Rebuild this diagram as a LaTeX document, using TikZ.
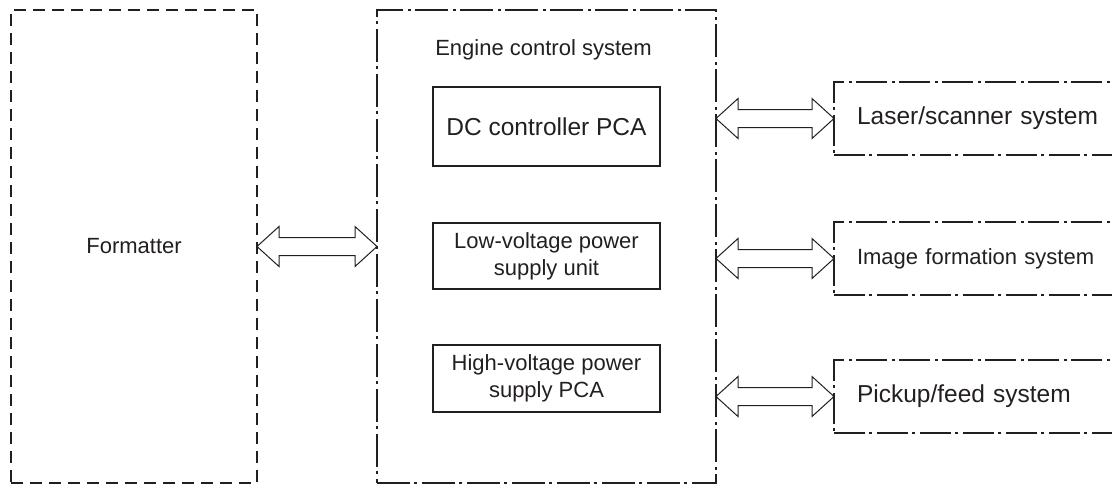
\documentclass[tikz,border=0pt]{standalone}
\usepackage{fontspec}
\setmainfont{Liberation Sans}
\usetikzlibrary{calc}
\definecolor{ink}{HTML}{231F20}
\newcommand{\smallfs}{\fontsize{22}{27}\selectfont}
\newcommand{\bigfs}{\fontsize{24.5}{29}\selectfont}
\tikzset{
  every node/.style={inner sep=0pt, outer sep=0pt, text=ink},
  fmtbox/.style={draw=ink, line width=2.5pt, dash pattern=on 12pt off 7pt, font=\smallfs},
  engbox/.style={draw=ink, line width=2.6pt, dash pattern=on 33pt off 4pt on 3pt off 5pt},
  inbox/.style={draw=ink, line width=2.3pt, minimum width=227pt, align=center},
  sysbox/.style={draw=ink, line width=2.4pt, dash pattern=on 31pt off 4pt on 3pt off 5pt,
    minimum height=73pt, text width=245pt, inner xsep=23pt, align=left},
  titletext/.style={font=\smallfs},
  blockarrow/.style={draw=ink, line width=1pt, fill=white,
    to path={let \p1=(\tikztostart), \p2=(\tikztotarget) in
      (\x1,\y1) -- (\x1+22pt,\y1+20pt) -- (\x1+22pt,\y1+9pt) -- (\x2-22pt,\y1+9pt)
      -- (\x2-22pt,\y1+20pt) -- (\x2,\y1) -- (\x2-22pt,\y1-20pt) -- (\x2-22pt,\y1-9pt)
      -- (\x1+22pt,\y1-9pt) -- (\x1+22pt,\y1-20pt) -- cycle}}
}
\begin{document}
\begin{tikzpicture}[x=1pt,y=-1pt]
\useasboundingbox (0,0) rectangle (1112,485);
\clip (0,0) rectangle (1112,485);
\node[fmtbox, minimum width=246pt, minimum height=473pt] (fmt) at (134,246.5) {Formatter};
\node[engbox, minimum width=339pt, minimum height=473pt] (eng) at (546.5,246.5) {};
\node[titletext] (engt) at (543.5,50) {Engine control system};
\node[inbox, minimum height=79pt, font=\bigfs] (dc) at (546.5,126.5) {DC controller PCA};
\node[inbox, minimum height=66pt, font=\smallfs] (lv) at (546.5,256) {Low-voltage power\\supply unit};
\node[inbox, minimum height=67pt, font=\smallfs] (hv) at (546.5,378.5) {High-voltage power\\supply PCA};
\node[sysbox, font=\bigfs] (las) at (979.5,118.5) {Laser/scanner system};
\node[sysbox, font=\smallfs] (img) at (979.5,258.5) {Image formation system};
\node[sysbox, font=\bigfs] (pick) at (979.5,396.5) {Pickup/feed system};
\draw[blockarrow] (fmt.east) to (eng.west);
\draw[blockarrow] (eng.east |- las.west) to (las.west);
\draw[blockarrow] (eng.east |- img.west) to (img.west);
\draw[blockarrow] (eng.east |- pick.west) to (pick.west);
\end{tikzpicture}
\end{document}
